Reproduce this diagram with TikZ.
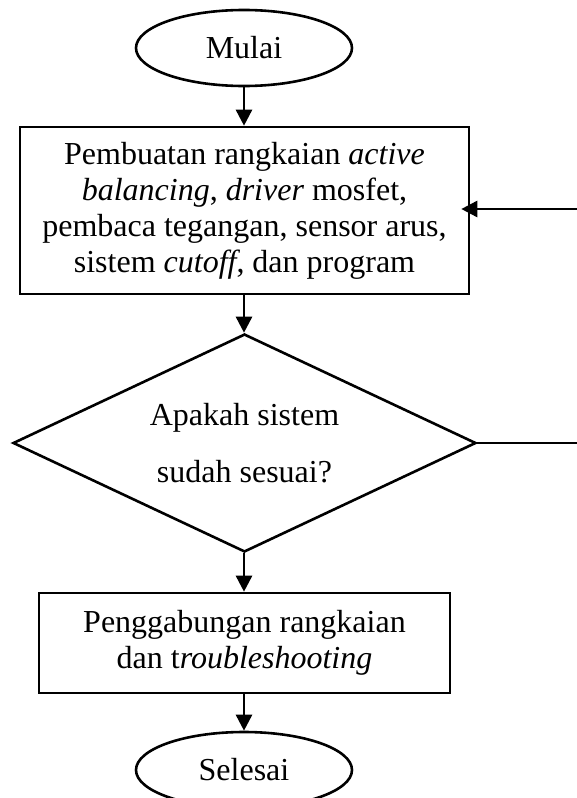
\documentclass[tikz,border=0pt]{standalone}
\usepackage{fontspec}
\setmainfont{Liberation Serif}
\usetikzlibrary{shapes.geometric,arrows.meta}
\tikzset{
  base/.style={draw=black, line width=2.6pt, inner sep=0pt, font=\fontsize{32}{36}\selectfont, align=center},
  terminal/.style={base, ellipse, minimum width=216pt, minimum height=76pt},
  process/.style={base, rectangle},
  decision/.style={base, diamond, aspect=2.12, minimum width=463pt, minimum height=218pt},
  flow/.style={line width=2.6pt, -{Triangle[length=16pt,width=16pt]}}
}
\begin{document}
\begin{tikzpicture}[x=1pt,y=1pt]
\useasboundingbox (0,0) rectangle (576,-798);
\node[terminal] (mulai) at (244,-48) {Mulai};
\node[process, minimum width=449pt, minimum height=167pt] (buat) at (244.5,-210.5)
  {Pembuatan rangkaian \textit{active}\\\textit{balancing}, \textit{driver} mosfet,\\pembaca tegangan, sensor arus,\\sistem \textit{cutoff}, dan program};
\node[decision] (cek) at (244.5,-443) {Apakah sistem\\[21pt]sudah sesuai?};
\node[process, minimum width=411pt, minimum height=100pt] (gabung) at (244.5,-643)
  {Penggabungan rangkaian\\dan t\textit{roubleshooting}};
\node[terminal] (selesai) at (244,-770) {Selesai};
\coordinate (c1) at (582,-443);
\coordinate (c2) at (582,-209);
\draw[flow] (mulai.south) -- (mulai.south |- buat.north);
\draw[flow] (buat.south -| mulai.south) -- (mulai.south |- cek.north);
\draw[flow] (mulai.south |- cek.south) -- (mulai.south |- gabung.north);
\draw[flow] (mulai.south |- gabung.south) -- (selesai.north);
\draw[flow, shorten >=-9pt] (cek.east) -- (c1) -- (c2) -- (c2 -| buat.east);
\end{tikzpicture}
\end{document}
